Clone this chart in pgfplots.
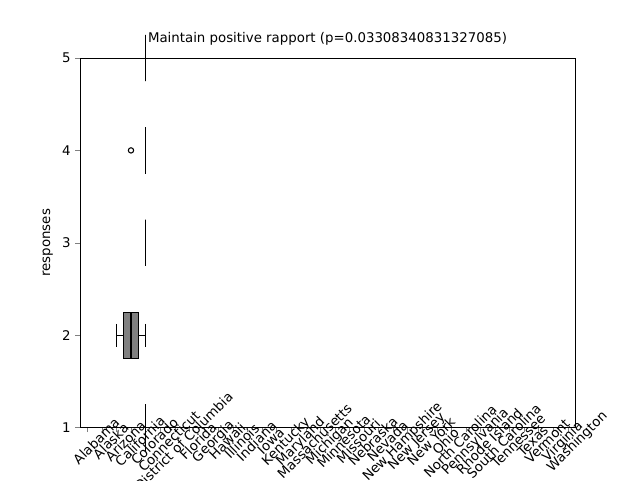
\documentclass[border=0pt]{standalone}
\usepackage{pgfplots}
\pgfplotsset{compat=1.18}
\usepgfplotslibrary{statistics}
\usetikzlibrary{calc}
\usepackage{fontspec}
\setmainfont{DejaVu Sans}
\newcommand{\bp}[6]{\addplot+[boxplot prepared={draw position=#1, lower whisker=#2, lower quartile=#3, median=#4, upper quartile=#5, upper whisker=#6}] coordinates {};}
\newcommand{\bpo}[7]{\addplot+[boxplot prepared={draw position=#1, lower whisker=#2, lower quartile=#3, median=#4, upper quartile=#5, upper whisker=#6}] coordinates {(0,#7)};}
\begin{document}
\fontsize{10}{12}\selectfont
\begin{tikzpicture}
\begin{axis}[scale only axis, width=371pt, height=277pt,
  xmin=0.5, xmax=34.5, ymin=1, ymax=5,
  ytick={1,2,3,4,5}, xtick={1,...,34},
  xticklabels={Alabama,Alaska,Arizona,California,Colorado,Connecticut,District of Columbia,Florida,Georgia,Hawaii,Illinois,Indiana,Iowa,Kentucky,Maryland,Massachusetts,Michigan,Minnesota,Missouri,Nebraska,Nevada,New Hampshire,New Jersey,New York,Ohio,North Carolina,Pennsylvania,Rhode Island,South Carolina,Tennessee,Texas,Vermont,Virginia,Washington},
  xticklabel style={rotate=45, anchor=north, yshift=-2pt, font=\fontsize{10}{12}\selectfont},
  tick align=outside, tick pos=left,
  major tick length=3.5pt,
  ylabel={responses},
  title={Maintain positive rapport (p=0.03308340831327085)},
  /pgf/number format/assume math mode=true,
  clip=false,
  boxplot/box extend=0.5,
  boxplot/whisker extend=0.25,
  cycle list={{draw=black, fill=gray, solid, mark=o, mark options={fill=white, scale=1.2}}},
  every axis plot/.append style={line width=0.8pt},
]
\coordinate (sw) at (rel axis cs:0,0);
\coordinate (ne) at (rel axis cs:1,1);
\bp{1}{5}{5}{5}{5}{5}
\bp{2}{3}{3.5}{4}{4.5}{5}
\bp{3}{5}{5}{5}{5}{5}
\bpo{4}{5}{5}{5}{5}{5}{4}
\bp{5}{5}{5}{5}{5}{5}
\bp{6}{5}{5}{5}{5}{5}
\bp{7}{5}{5}{5}{5}{5}
\bp{8}{5}{5}{5}{5}{5}
\bp{9}{4}{4}{4}{4}{4}
\bp{10}{5}{5}{5}{5}{5}
\bp{11}{5}{5}{5}{5}{5}
\bp{12}{5}{5}{5}{5}{5}
\bp{13}{4}{4.25}{4.5}{4.75}{5}
\bp{14}{5}{5}{5}{5}{5}
\bp{15}{5}{5}{5}{5}{5}
\bp{16}{5}{5}{5}{5}{5}
\bp{17}{5}{5}{5}{5}{5}
\bp{18}{4}{4.25}{4.5}{4.75}{5}
\bp{19}{4}{4.25}{4.5}{4.75}{5}
\bp{20}{5}{5}{5}{5}{5}
\bp{21}{5}{5}{5}{5}{5}
\bp{22}{5}{5}{5}{5}{5}
\bpo{23}{5}{4.75}{5}{5}{5}{4}
\bp{24}{5}{5}{5}{5}{5}
\bp{25}{5}{5}{5}{5}{5}
\bp{26}{5}{5}{5}{5}{5}
\bp{27}{5}{5}{5}{5}{5}
\bp{28}{5}{5}{5}{5}{5}
\bpo{29}{5}{5}{5}{5}{5}{4}
\bp{30}{5}{5}{5}{5}{5}
\bp{31}{5}{5}{5}{5}{5}
\bp{32}{5}{5}{5}{5}{5}
\bpo{33}{5}{5}{5}{5}{5}{4}
\bp{34}{5}{5}{5}{5}{5}
\end{axis}
\pgfresetboundingbox
\path[use as bounding box] ($(sw)+(-60pt,-39.75pt)$) rectangle ($(ne)+(48.75pt,43.5pt)$);
\end{tikzpicture}
\end{document}
